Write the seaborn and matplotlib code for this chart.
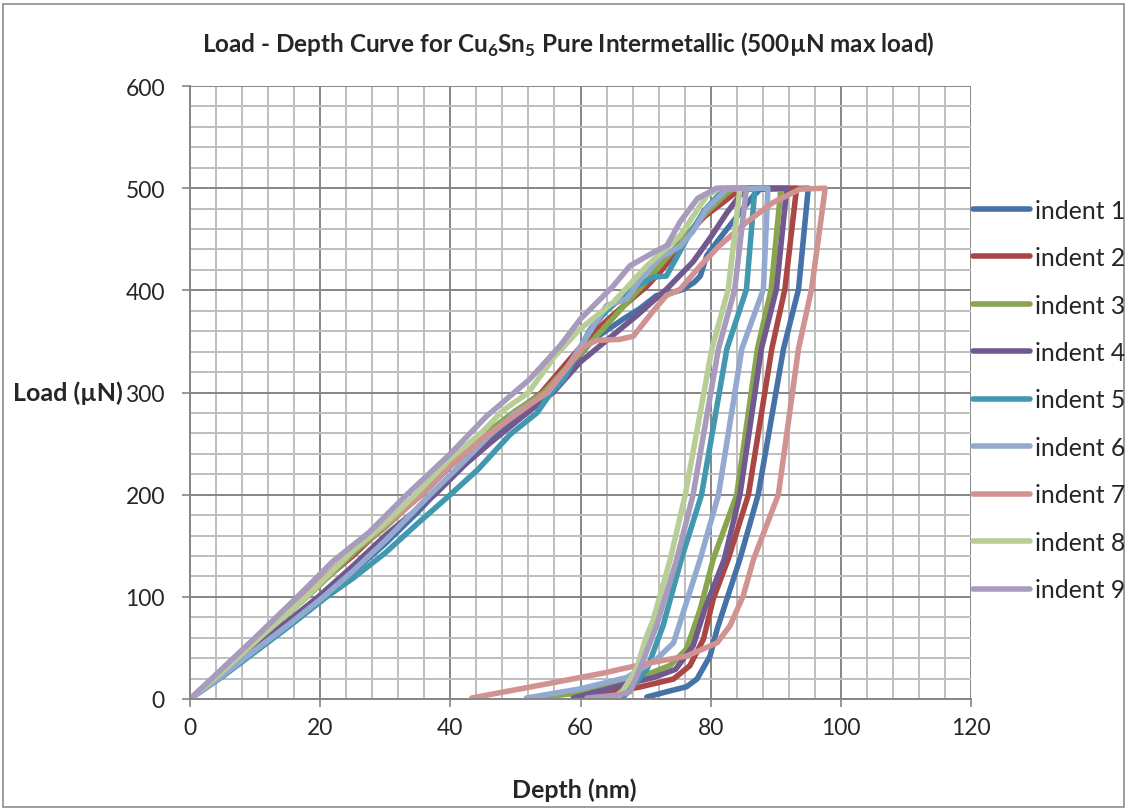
import matplotlib
matplotlib.use("Agg")
import matplotlib.pyplot as plt
from matplotlib.patches import Rectangle
from matplotlib.lines import Line2D
import seaborn as sns
import pandas as pd

# ---------------- data ----------------
indent_names = ["indent 1", "indent 2", "indent 3", "indent 4", "indent 5",
                "indent 6", "indent 7", "indent 8", "indent 9"]

depth_1 = [0, 5, 10, 15, 20.5, 25, 30, 35, 37.5, 42, 46, 50, 55, 59, 62, 66.6, 69.1, 71.7, 73.2, 75.8, 77.5, 78.4,
           79.4, 81.4, 84.5, 86.5, 87.6, 95, 93.5, 91.2, 87.3, 84.5, 82.5, 81, 79.9, 77.9, 76.3, 73.8, 70.2]
load_1 = [0, 24, 50, 74, 100, 124, 152, 183, 200, 228, 255, 275, 300, 330, 352, 372, 382, 395, 396, 401, 408, 414,
          434, 451, 476, 492, 499, 500, 401, 343, 200, 137, 98, 68.5, 42, 19.6, 12, 8, 2]

depth_2 = [0, 5, 10, 17.5, 25, 30, 35.6, 40, 45, 50, 54, 58, 62, 66.1, 70.2, 72.5, 74.3, 76.8, 79, 81.9, 84.5,
           93.2, 91.4, 89.4, 85.8, 82.7, 80.4, 78.9, 76.8, 74.3, 69.1, 66, 62]
load_2 = [0, 27, 55, 100, 140, 170, 200, 228, 255, 280, 300, 330, 359, 382, 404, 420, 434, 457, 472, 486, 499,
          500, 401, 343, 200, 137, 98, 58.7, 32.6, 19.6, 11.7, 8, 1]

depth_3 = [0, 5, 10, 18, 26, 30, 35.5, 40, 45, 50, 54.3, 58, 62, 66, 70, 73, 76, 79, 82, 83.5,
           90.8, 89.3, 87.2, 84, 80.4, 78.4, 76.3, 73.8, 67.1, 60, 52.7]
load_3 = [0, 28, 56, 100, 148, 168, 200, 232, 258, 282, 300, 325, 352, 380, 408, 430, 452, 474, 492, 500,
          500, 401, 343, 200, 137, 88, 49, 33, 16, 6, 1]

depth_4 = [0, 5, 10, 15, 19.7, 25, 30, 37.6, 42, 46, 51.2, 55.8, 60, 66.1, 68.6, 73.2, 77.3, 80, 82.5, 84.5, 86,
           91.7, 90.1, 87.8, 84.5, 82.1, 79.1, 77.3, 74.6, 71.2, 66, 58.9]
load_4 = [0, 25, 52, 76, 100, 130, 160, 200, 228, 250, 277, 300, 330, 362, 375, 401, 428, 452, 476, 493, 500,
          500, 401, 343, 200, 137, 88, 52, 29, 21, 13, 1]

depth_5 = [0, 5, 10, 15, 21, 25, 30, 35, 40, 44.3, 49.2, 53.3, 55.5, 57.4, 61.5, 64, 66.1, 68.6, 71.2, 73.2,
           76.3, 79, 81.9, 82.5, 86.8, 85.5, 82.5, 78.6, 75.5, 72.7, 70.2, 68.1, 66.6]
load_5 = [0, 22, 46, 70, 100, 118, 143, 172, 200, 225, 259, 280, 300, 313, 362, 380, 391.5, 404, 413, 414,
          450, 478, 498, 500, 500, 401, 343, 200, 137, 72, 29, 13, 2]

depth_6 = [0, 5, 10, 15, 20.5, 25, 30, 36.9, 42, 46, 50, 55, 58, 61, 64, 67.1, 69.1, 72.2, 75.3, 77.3, 79.4, 82.5,
           88.8, 88.1, 84.8, 81.2, 78.4, 76.3, 74.3, 71.7, 67.1, 60, 51.7]
load_6 = [0, 23, 48, 72, 100, 125, 155, 200, 232, 258, 280, 300, 325, 355, 385, 391.5, 410, 432, 443, 458, 480, 499,
          500, 401, 343, 200, 137, 95, 55, 39, 21, 10, 1]

depth_7 = [0, 5, 10, 17.4, 25, 30, 35.6, 40, 45, 50, 54.8, 58, 60.5, 62.5, 66, 68.1, 71.2, 73.2, 75.3, 78.4, 81.4,
           85.5, 89.6, 93.7, 97.6, 95.5, 93.5, 90.4, 86.6, 85, 83, 81, 76.3, 71.2, 66, 64, 55, 43.3]
load_7 = [0, 28, 56, 100, 145, 170, 200, 228, 255, 278, 300, 325, 345, 351, 352, 355, 380, 395, 401, 424, 444,
          466.6, 486, 499, 500, 401, 343, 200, 137, 101, 72, 55, 42, 36, 29, 26, 15, 1]

depth_8 = [0, 5, 10, 17.9, 25, 30, 34.6, 40, 45, 48, 52, 56, 59.9, 65, 70.2, 75.3, 79.4, 81.4,
           84.5, 82.7, 80.2, 76.1, 73.8, 71.2, 70, 68.6, 66.5, 65]
load_8 = [0, 27, 56, 100, 145, 172, 200, 235, 262, 282, 300, 335, 362, 388, 424, 453.5, 492.6, 500,
          500, 401, 343, 200, 137, 78, 58.7, 29, 8, 1]

depth_9 = [0, 5, 10, 16.5, 22, 27.5, 33.3, 40, 45.6, 48, 52.2, 56.9, 60, 65, 67.6, 71.2, 73.3, 75.3, 78, 80.9,
           85.5, 83.7, 81.2, 77.3, 74.8, 71.7, 69.1, 67.6, 66, 61]
load_9 = [0, 30, 60, 100, 135, 163, 200, 240, 277, 290, 313, 346, 372, 404, 424, 437, 444, 467, 490, 500,
          500, 401, 343, 200, 137, 72, 29, 7, 4, 1]

depths = [depth_1, depth_2, depth_3, depth_4, depth_5, depth_6, depth_7, depth_8, depth_9]
loads = [load_1, load_2, load_3, load_4, load_5, load_6, load_7, load_8, load_9]

x_ticks = [0, 20, 40, 60, 80, 100, 120]
y_ticks = [0, 100, 200, 300, 400, 500, 600]

colors = ["#4572A7", "#AA4643", "#89A54E", "#71588F", "#4198AF",
          "#93A9CF", "#D19392", "#B9CD96", "#A99BBD"]

rows = []
for name, dd, ll in zip(indent_names, depths, loads):
    for i, (d, l) in enumerate(zip(dd, ll)):
        rows.append({"indent": name, "order": i, "Depth": d, "Load": l})
df = pd.DataFrame(rows)

# ---------------- figure ----------------
sns.set_style("white")
plt.rcParams["font.family"] = ["Lato", "DejaVu Sans"]
plt.rcParams["mathtext.fontset"] = "custom"
plt.rcParams["mathtext.rm"] = "Lato"
plt.rcParams["mathtext.bf"] = "Lato:bold"

W, H = 1130, 812
fig = plt.figure(figsize=(W / 100, H / 100), dpi=100)
ax = fig.add_axes([190 / W, 1 - 700 / H, (971 - 190) / W, (700 - 87) / H])

LW = 4.0
sns.lineplot(data=df, x="Depth", y="Load", hue="indent", hue_order=indent_names,
             palette=colors, sort=False, estimator=None, lw=LW, ax=ax, legend=False,
             solid_capstyle="round", solid_joinstyle="round")

ax.set_xlim(0, 120)
ax.set_ylim(0, 600)
ax.set_xticks(x_ticks)
ax.set_yticks(y_ticks)
ax.set_xticks(range(0, 121, 4), minor=True)
ax.set_yticks(range(0, 601, 20), minor=True)
ax.set_axisbelow(True)
ax.grid(which="minor", color="#BEBEBE", lw=1.4)
ax.grid(which="major", color="#868686", lw=1.4)
ax.tick_params(which="minor", length=0)
ax.tick_params(which="major", length=6, width=1.2, color="#868686",
               labelsize=16.5, direction="out", bottom=True, left=True)
ax.tick_params(axis="y", pad=12)
ax.tick_params(axis="x", pad=7)
for s in ["top", "right"]:
    ax.spines[s].set_visible(False)
for s in ["left", "bottom"]:
    ax.spines[s].set_color("#868686")
    ax.spines[s].set_linewidth(1.4)
ax.set_xlabel("")
ax.set_ylabel("")

fig.text(568 / W, 1 - 45 / H,
         r"Load - Depth Curve for Cu$_\mathbf{6}$Sn$_\mathbf{5}$ Pure Intermetallic (500µN max load)",
         ha="center", va="center", fontsize=17.5, fontweight="bold")
fig.text(574 / W, 1 - 790 / H, "Depth (nm)", ha="center", va="center",
         fontsize=18, fontweight="bold")
fig.text(68 / W, 1 - 393 / H, "Load (µN)", ha="center", va="center",
         fontsize=18, fontweight="bold")

handles = [Line2D([0], [0], color=c, lw=LW, solid_capstyle="round") for c in colors]
fig.legend(handles, indent_names, loc="center left",
           bbox_to_anchor=(973 / W, 1 - 401 / H), frameon=False, fontsize=17.8,
           handlelength=2.3, handletextpad=0.2, labelspacing=0.99,
           borderpad=0, borderaxespad=0)

fig.patches.append(Rectangle((3 / W, 4 / H), (1124 - 3) / W, (807 - 4) / H,
                             transform=fig.transFigure, fill=False,
                             edgecolor="#8C8C8C", lw=1.2))

fig.savefig("out.png", dpi=100)
